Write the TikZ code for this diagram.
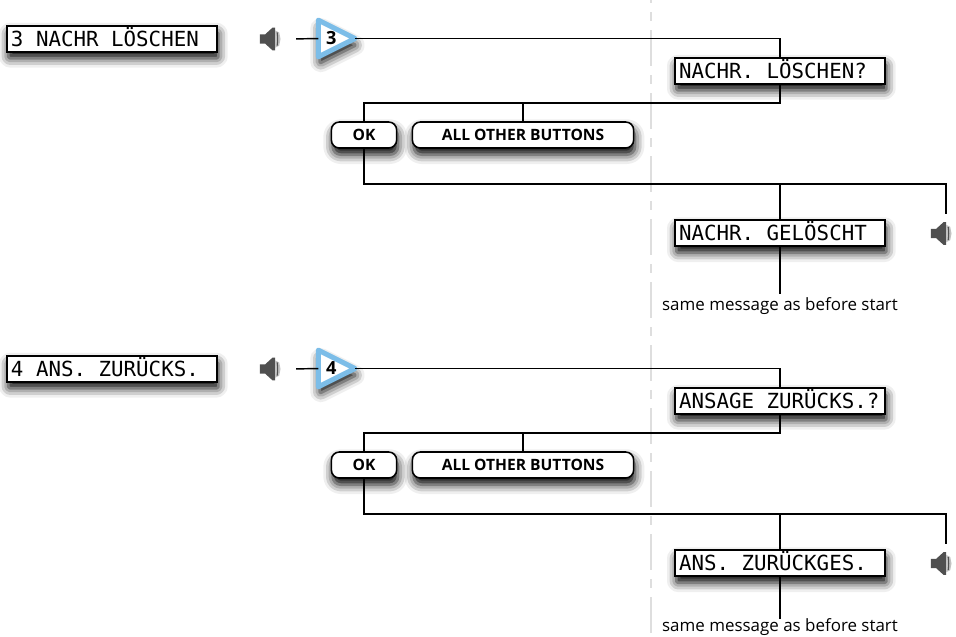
\documentclass[tikz,border=0pt]{standalone}
\usepackage{fontspec}
\setmainfont{Open Sans}
\newfontfamily\lcdfont{DejaVu Sans Mono}
\usetikzlibrary{shapes.geometric,shadows.blur}

\definecolor{trianglecol}{HTML}{7CBDE8}
\definecolor{speakercol}{HTML}{505050}

\tikzset{
  softshadow/.style={blur shadow={shadow xshift=1pt,shadow yshift=-5pt,
      shadow blur radius=7pt,shadow blur extra rounding=1pt,shadow opacity=100}},
  lcd/.style={draw,line width=1.5pt,fill=white,softshadow,inner ysep=0pt,
    inner xsep=3pt,minimum height=19.5pt,text width=151.5pt,align=flush left,
    text height=11.4pt,text depth=0pt,font=\lcdfont\fontsize{15.6}{16}\selectfont},
  btn/.style={draw,line width=1.2pt,fill=white,softshadow,rounded corners=6pt,
    inner sep=0pt,minimum height=19.5pt,font=\bfseries\fontsize{11.7}{13}\selectfont},
  keytri/.style={isosceles triangle,isosceles triangle apex angle=53,
    isosceles triangle stretches,minimum width=27.5pt,minimum height=27.5pt,
    draw=trianglecol,line width=3.8pt,line join=round,fill=white,inner sep=0pt,
    outer sep=0pt,softshadow,font=\bfseries\fontsize{13.6}{14}\selectfont},
  speaker/.style={minimum width=16pt,minimum height=18pt,inner sep=0pt,
    path picture={
      \fill[speakercol,line join=round] (-8pt,-3.5pt) -- (-4pt,-3.5pt) -- (1.5pt,-8.5pt)
        -- (3.5pt,-8.5pt) -- (3.5pt,8.5pt) -- (1.5pt,8.5pt) -- (-4pt,3.5pt) -- (-8pt,3.5pt) -- cycle;
      \fill[speakercol!35] (3.5pt,-6.5pt) -- (6.5pt,-5pt) -- (7.5pt,0pt) -- (6.5pt,5pt) -- (3.5pt,6.5pt) -- cycle;
      \draw[speakercol,line width=.8pt] (5pt,-5pt) to[bend right=8] (5pt,5pt);
    }},
  wire/.style={line width=1.1pt},
  msg/.style={font=\fontsize{12.7}{14}\selectfont,inner sep=0pt}
}

\begin{document}
\begin{tikzpicture}[x=.75pt,y=-.75pt]
  \useasboundingbox (0,0) rectangle (956,636);

  % divider between the two columns
  \draw[black!13,line width=1.5pt,dash pattern=on 6.75pt off 6.75pt on 27pt off 6.75pt] (651,-51) -- (651,636);

  \foreach \sec/\dy/\tail/\msgy/\menu/\ask/\done in {
    3/0/294/297/3 NACHR LÖSCHEN/NACHR. LÖSCHEN?/NACHR. GELÖSCHT,
    4/330/289/288.5/4 ANS. ZURÜCKS./ANSAGE ZURÜCKS.?/ANS. ZURÜCKGES.} {
    \begin{scope}[shift={(0,\dy)}]
      \node[lcd] (menu\sec) at (112,38.5) {\menu};
      \node[speaker] (beep\sec) at (270.5,39) {};
      \node[keytri,anchor=apex] (key\sec) at (355,38.5) {\hspace*{4pt}\sec};

      \node[lcd] (ask\sec) at (780,70.5) {\ask};
      \node[btn,minimum width=49pt] (ok\sec) at (364,135) {OK};
      \node[btn,minimum width=166pt] (other\sec) at (523,135) {ALL OTHER BUTTONS};

      \node[lcd] (done\sec) at (780,233) {\done};
      \node[speaker] (endbeep\sec) at (941.5,233.5) {};
      \coordinate (stop\sec) at (780,\tail);
      \node[msg,anchor=north] (same\sec) at (780,\msgy) {same message as before start};

      \draw[wire,shorten <=11pt] (beep\sec.east) -- (key\sec);
      \draw[wire] (key\sec.apex) -| (ask\sec.north);
      \draw[wire] (ask\sec.south) |- (ok\sec.north |- 0,103) -- (ok\sec.north);
      \draw[wire] (other\sec.north) -- (other\sec.north |- 0,103);
      \draw[wire] (ok\sec.south) |- (946,184) -- (946,214);
      \draw[wire] (done\sec.north) -- (780,184);
      \draw[wire] (done\sec.south) -- (stop\sec);
    \end{scope}
  }
\end{tikzpicture}
\end{document}
